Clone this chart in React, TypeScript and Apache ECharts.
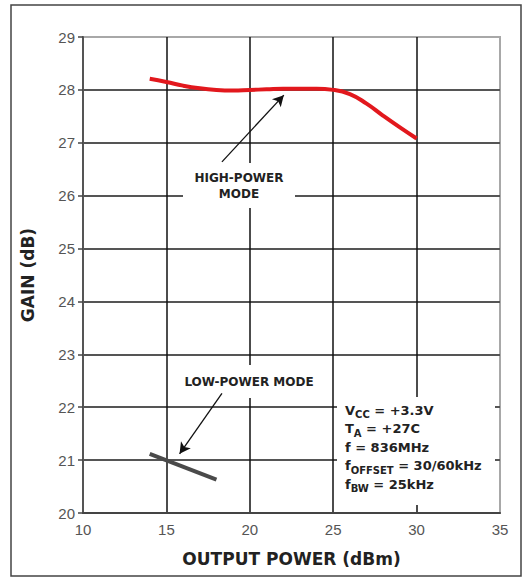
import React, { useEffect, useRef } from "react";
import * as echarts from "echarts";

const xMin = 10;
const xMax = 35;
const yMin = 20;
const yMax = 29;
const highPowerX = [14, 15, 16, 17, 18, 19, 20, 21, 22, 23, 24, 25, 26, 27, 28, 29, 30];
const highPowerGain = [28.21, 28.15, 28.08, 28.03, 28.0, 27.99, 28.0, 28.01, 28.02, 28.02, 28.02, 28.0, 27.92, 27.74, 27.51, 27.29, 27.08];
const lowPowerX = [14, 18];
const lowPowerGain = [21.12, 20.63];
const highArrow = [[18.33, 26.64], [22.04, 27.9]];
const lowArrow = [[18.33, 22.26], [15.79, 21.12]];
const conditionLines = [
  ["V", "CC", " = +3.3V"],
  ["T", "A", " = +27C"],
  ["f = 836MHz", "", ""],
  ["f", "OFFSET", " = 30/60kHz"],
  ["f", "BW", " = 25kHz"],
];

const FONT = "'Liberation Sans', Arial, sans-serif";
const BOLD = "'DejaVu Sans', 'Liberation Sans', sans-serif";

export default function App() {
  const ref = useRef<HTMLDivElement>(null);
  useEffect(() => {
    document.body.style.margin = "0";
    if (!ref.current) return;
    const chart = echarts.init(ref.current, null, { renderer: "svg" });
    const condText = conditionLines
      .map(([a, b, c]) => `{v|${a}}` + (b ? `{s|${b}}` : "") + (c ? `{v|${c}}` : ""))
      .join("\n");
    chart.setOption({
      animation: false,
      backgroundColor: "#fff",
      grid: {
        left: 83,
        right: 25,
        top: 37,
        bottom: 65,
        show: true,
        borderColor: "#a8a8a8",
        borderWidth: 2,
        backgroundColor: "transparent",
      },
      xAxis: {
        type: "value",
        min: xMin,
        max: xMax,
        interval: 5,
        name: "OUTPUT POWER (dBm)",
        nameLocation: "middle",
        nameGap: 37,
        nameTextStyle: { fontFamily: BOLD, fontWeight: "bold", fontSize: 17, color: "#222" },
        axisLine: { show: true, onZero: false, lineStyle: { color: "#444", width: 2 } },
        axisTick: { show: false },
        axisLabel: { fontFamily: FONT, fontSize: 15, color: "#555", margin: 9 },
        splitLine: { show: true, showMinLine: false, showMaxLine: false, lineStyle: { color: "#111", width: 1.5 } },
      },
      yAxis: {
        type: "value",
        min: yMin,
        max: yMax,
        interval: 1,
        name: "GAIN (dB)",
        nameLocation: "middle",
        nameGap: 47,
        nameTextStyle: { fontFamily: BOLD, fontWeight: "bold", fontSize: 17, color: "#222" },
        axisLine: { show: true, onZero: false, lineStyle: { color: "#555", width: 2 } },
        axisTick: { show: true, inside: false, length: 5, lineStyle: { color: "#444", width: 1.5 } },
        axisLabel: { fontFamily: FONT, fontSize: 15, color: "#555", margin: 8 },
        splitLine: { show: true, showMinLine: false, showMaxLine: false, lineStyle: { color: "#555", width: 2 } },
      },
      series: [
        {
          type: "line",
          name: "High-power mode",
          data: highPowerX.map((x, i) => [x, highPowerGain[i]]),
          smooth: 0.5,
          showSymbol: false,
          lineStyle: { color: "#e2181d", width: 4 },
          z: 3,
          markLine: {
            silent: true,
            symbol: ["none", "arrow"],
            symbolSize: [9, 11],
            label: { show: false },
            lineStyle: { color: "#111", width: 1.3, type: "solid" },
            data: [[{ coord: highArrow[0] }, { coord: highArrow[1] }]],
          },
        },
        {
          type: "line",
          name: "Low-power mode",
          data: lowPowerX.map((x, i) => [x, lowPowerGain[i]]),
          showSymbol: false,
          lineStyle: { color: "#4a4a4a", width: 4 },
          z: 3,
          markLine: {
            silent: true,
            symbol: ["none", "arrow"],
            symbolSize: [9, 11],
            label: { show: false },
            lineStyle: { color: "#111", width: 1.3, type: "solid" },
            data: [[{ coord: lowArrow[0] }, { coord: lowArrow[1] }]],
          },
        },
      ],
      graphic: [
        {
          type: "rect",
          z: 1,
          shape: { x: 11, y: 5, width: 510, height: 571 },
          style: { fill: "none", stroke: "#444", lineWidth: 1.5 },
        },
        {
          type: "rect",
          z: 1,
          shape: { x: 183, y: 163, width: 112, height: 45 },
          style: { fill: "#fff" },
        },
        {
          type: "rect",
          z: 1,
          shape: { x: 178, y: 365, width: 143, height: 33 },
          style: { fill: "#fff" },
        },
        {
          type: "rect",
          z: 1,
          shape: { x: 337, y: 397, width: 158, height: 108 },
          style: { fill: "#fff" },
        },
        {
          type: "text",
          z: 5,
          x: 239,
          y: 186,
          style: {
            text: "HIGH-POWER\nMODE",
            fontFamily: BOLD,
            fontWeight: "bold",
            fontSize: 12,
            lineHeight: 16,
            fill: "#222",
            align: "center",
            verticalAlign: "middle",
          },
        },
        {
          type: "text",
          z: 5,
          x: 249,
          y: 382,
          style: {
            text: "LOW-POWER MODE",
            fontFamily: BOLD,
            fontWeight: "bold",
            fontSize: 12,
            fill: "#222",
            align: "center",
            verticalAlign: "middle",
          },
        },
        {
          type: "text",
          z: 5,
          x: 345,
          y: 401,
          style: {
            text: condText,
            fontFamily: BOLD,
            fill: "#222",
            rich: {
              v: { fontFamily: BOLD, fontWeight: "bold", fontSize: 13, lineHeight: 18.5, fill: "#222", verticalAlign: "middle" },
              s: { fontFamily: BOLD, fontWeight: "bold", fontSize: 10, lineHeight: 18.5, fill: "#222", verticalAlign: "bottom", padding: [13, 0, 0, 0] },
            },
          },
        },
      ],
    });
    return () => chart.dispose();
  }, []);
  return <div ref={ref} style={{ width: 525, height: 578 }} />;
}
